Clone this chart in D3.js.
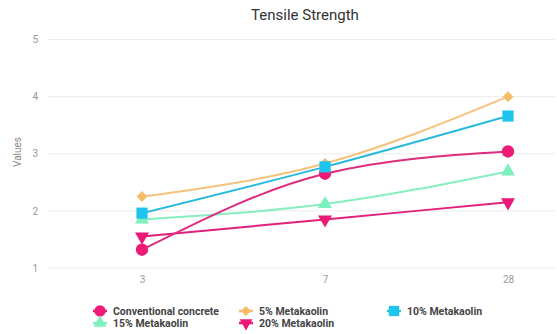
<!DOCTYPE html>
<html>
<head>
<meta charset="utf-8">
<script src="https://cdn.jsdelivr.net/npm/d3@7/dist/d3.min.js"></script>
<style>
  html, body { margin: 0; padding: 0; background: #fff; }
  svg { display: block; font-family: Roboto, "Noto Sans", sans-serif; }
</style>
</head>
<body>
<svg id="chart" width="557" height="334"></svg>
<script>
// Curing age (days)
const ages = ["3", "7", "28"];
const yTicks = [1, 2, 3, 4, 5];

// Tensile strength per mix
const conventional = [1.32, 2.65, 3.04];
const mk5 = [2.25, 2.83, 4.0];
const mk10 = [1.96, 2.77, 3.66];
const mk15 = [1.85, 2.12, 2.69];
const mk20 = [1.55, 1.85, 2.15];

const seriesNames = ["Conventional concrete", "5% Metakaolin", "10% Metakaolin", "15% Metakaolin", "20% Metakaolin"];
const seriesValues = [conventional, mk5, mk10, mk15, mk20];
const lineColors = ["#dc2d7e", "#f3c27c", "#28b9dc", "#86eec0", "#e0207a"];
const markColors = ["#ee1a78", "#f7bc68", "#1ec4ee", "#7ef0bd", "#ec1878"];
const symbols = [d3.symbolCircle, d3.symbolSquare, d3.symbolSquare, d3.symbolTriangle, d3.symbolTriangle];
const symbolSizes = [120, 60, 125, 85, 85];
const rotations = [0, 45, 0, 0, 180];

const svg = d3.select("#chart");

const x = d3.scalePoint().domain(ages).range([142, 508]);
const y = d3.scaleLinear().domain([1, 5]).range([268, 39.5]);
const gridLeft = 48, gridRight = 555;

// Title
svg.append("text")
  .attr("x", 305).attr("y", 20)
  .attr("text-anchor", "middle")
  .attr("font-size", 15)
  .attr("fill", "#333")
  .text("Tensile Strength");

// Horizontal grid lines
svg.append("g").selectAll("line").data(yTicks).join("line")
  .attr("x1", gridLeft).attr("x2", gridRight)
  .attr("y1", d => y(d)).attr("y2", d => y(d))
  .attr("stroke", "#ececec").attr("stroke-width", 1);

// Y axis labels
const yAxis = d3.axisLeft(y).tickValues(yTicks).tickSize(0).tickPadding(0).tickFormat(d3.format("d"));
const gy = svg.append("g").attr("transform", "translate(38,0)").call(yAxis);
gy.select(".domain").remove();
gy.selectAll("text").attr("font-size", 10).attr("fill", "#999").attr("font-family", "Roboto, sans-serif");

// X axis labels
const xAxis = d3.axisBottom(x).tickSize(0).tickPadding(0);
const gx = svg.append("g").attr("transform", "translate(0,276)").call(xAxis);
gx.select(".domain").remove();
gx.selectAll("text").attr("font-size", 10).attr("fill", "#999").attr("font-family", "Roboto, sans-serif");

// Y axis title
svg.append("text")
  .attr("transform", "translate(21,152) rotate(-90)")
  .attr("text-anchor", "middle")
  .attr("font-size", 10)
  .attr("fill", "#888")
  .text("Values");

// Lines
const line = d3.line()
  .x((d, i) => x(ages[i]))
  .y(d => y(d))
  .curve(d3.curveMonotoneX);

const drawOrder = [3, 4, 0, 1, 2];
drawOrder.forEach(k => {
  svg.append("path")
    .datum(seriesValues[k])
    .attr("d", line)
    .attr("fill", "none")
    .attr("stroke", lineColors[k])
    .attr("stroke-width", 2);
});

// Markers
drawOrder.forEach(k => {
  svg.append("g").selectAll("path").data(seriesValues[k]).join("path")
    .attr("d", d3.symbol().type(symbols[k]).size(symbolSizes[k]))
    .attr("transform", (d, i) => `translate(${x(ages[i])},${y(d)}) rotate(${rotations[k]})`)
    .attr("fill", markColors[k]);
});

// Legend
const legendPos = [[100, 311], [246, 311], [394, 311], [100, 323], [246, 323]];
seriesNames.forEach((name, k) => {
  const [lx, ly] = legendPos[k];
  const g = svg.append("g").attr("transform", `translate(${lx},${ly})`);
  g.append("line").attr("x1", -7).attr("x2", 7).attr("y1", 0).attr("y2", 0)
    .attr("stroke", markColors[k]).attr("stroke-width", 2.5);
  g.append("path")
    .attr("d", d3.symbol().type(symbols[k]).size(symbolSizes[k] * 0.85))
    .attr("transform", `rotate(${rotations[k]})`)
    .attr("fill", markColors[k]);
  g.append("text")
    .attr("x", 13).attr("y", 0).attr("dy", "0.35em")
    .attr("font-size", 10.5).attr("font-weight", "bold")
    .attr("fill", "#444")
    .text(name);
});
</script>
</body>
</html>
